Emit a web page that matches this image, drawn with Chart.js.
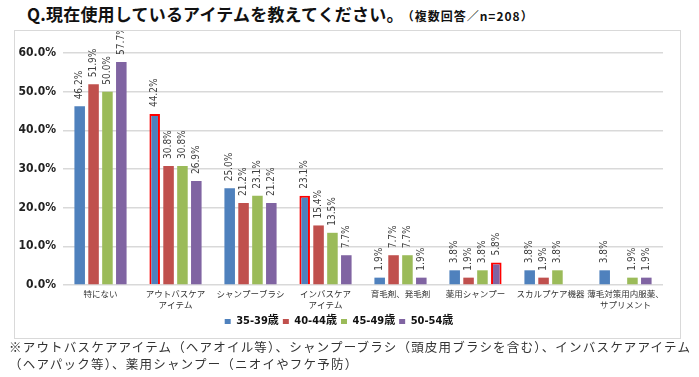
<!DOCTYPE html>
<html><head><meta charset="utf-8">
<script src="https://cdn.jsdelivr.net/npm/chart.js@4.4.1/dist/chart.umd.min.js"></script>
<style>
html,body{margin:0;padding:0;background:#fff;width:699px;height:377px;overflow:hidden;font-family:"Noto Sans CJK JP",sans-serif;}
#title{position:absolute;left:27px;top:1px;font-size:17px;font-weight:bold;color:#111;white-space:nowrap;letter-spacing:0.2px;}
#title span{font-size:12px;letter-spacing:1px;margin-left:4px;}
#box{position:absolute;left:14px;top:30px;width:665px;height:307px;border:1px solid #d9d9d9;}
#note{position:absolute;left:9px;top:338px;font-size:12.5px;line-height:17px;color:#333;letter-spacing:1.2px;white-space:nowrap;}
</style></head><body>
<div id="title">Q.現在使用しているアイテムを教えてください。<span>（複数回答／n=208）</span></div>
<div id="box"><canvas id="c" width="665" height="307"></canvas></div>
<div id="note">※アウトバスケアアイテム（ヘアオイル等）、シャンプーブラシ（頭皮用ブラシを含む）、インバスケアアイテム<br>（ヘアパック等）、薬用シャンプー（ニオイやフケ予防）</div>
<script>
const categories = ['特にない', ['アウトバスケア','アイテム'], 'シャンプーブラシ', ['インバスケア','アイテム'], '育毛剤、発毛剤', '薬用シャンプー', 'スカルプケア機器', ['薄毛対策用内服薬、','サプリメント']];
const seriesNames = ['35-39歳','40-44歳','45-49歳','50-54歳'];
const age35 = [46.2, 44.2, 25.0, 23.1, 1.9, 3.8, 3.8, 3.8];
const age40 = [51.9, 30.8, 21.2, 15.4, 7.7, 1.9, 1.9, null];
const age45 = [50.0, 30.8, 23.1, 13.5, 7.7, 3.8, 3.8, 1.9];
const age50 = [57.7, 26.9, 21.2, 7.7, 1.9, 5.8, null, 1.9];
const yTicks = [0, 10, 20, 30, 40, 50, 60];
// highlighted bars: [seriesIndex, categoryIndex]
const highlighted = [[0,1],[0,3],[3,5]];

const colors = ['#4F81BD','#C0504D','#9BBB59','#8064A2'];
const allSeries = [age35, age40, age45, age50];

const datasets = allSeries.map((d, si) => ({
  label: seriesNames[si],
  data: d,
  backgroundColor: colors[si],
  borderColor: d.map((v, ci) => highlighted.some(h => h[0]===si && h[1]===ci) ? '#FF0000' : colors[si]),
  borderWidth: d.map((v, ci) => highlighted.some(h => h[0]===si && h[1]===ci) ? 2 : 0),
  barPercentage: 0.76,
  categoryPercentage: 0.74
}));

const valueLabels = {
  id: 'valueLabels',
  afterDatasetsDraw(chart) {
    const ctx = chart.ctx;
    ctx.save();
    ctx.font = '10px "DejaVu Sans Condensed", sans-serif';
    ctx.fillStyle = '#404040';
    ctx.textAlign = 'left';
    ctx.textBaseline = 'middle';
    chart.data.datasets.forEach((ds, di) => {
      const meta = chart.getDatasetMeta(di);
      meta.data.forEach((el, i) => {
        const v = ds.data[i];
        if (v === null || v === undefined) return;
        ctx.save();
        ctx.translate(el.x, el.y - 7);
        ctx.rotate(-Math.PI / 2);
        ctx.fillText(v.toFixed(1) + '%', 0, 0);
        ctx.restore();
      });
    });
    ctx.restore();
  }
};

new Chart(document.getElementById('c'), {
  type: 'bar',
  data: { labels: categories, datasets },
  options: {
    responsive: false,
    animation: false,
    layout: { padding: { top: 22, right: 17, left: 0, bottom: 1 } },
    plugins: {
      legend: {
        position: 'bottom',
        labels: {
          boxWidth: 6, boxHeight: 5, padding: 4, color: '#111',
          font: { size: 11, weight: 'bold', family: '"DejaVu Sans Condensed", "Noto Sans CJK JP", sans-serif' },
          generateLabels(chart) {
            return chart.data.datasets.map((ds, i) => ({
              text: ds.label, fillStyle: colors[i], strokeStyle: colors[i], lineWidth: 0, datasetIndex: i, fontColor: '#111'
            }));
          }
        }
      },
      tooltip: { enabled: false }
    },
    scales: {
      x: {
        grid: { display: false, drawTicks: false },
        border: { display: false },
        ticks: { color: '#333', font: { size: 8.5, lineHeight: 1.35, family: '"Noto Sans CJK JP", sans-serif' }, padding: 3, maxRotation: 0, autoSkip: false },
        afterFit(scale) { scale.height = 27; }
      },
      y: {
        min: 0, max: 60,
        afterBuildTicks(scale) { scale.ticks = yTicks.map(v => ({ value: v })); },
        grid: { color: '#d9d9d9', lineWidth: 1.5, drawTicks: false },
        border: { display: false },
        ticks: {
          color: '#222', padding: 7,
          font: { size: 12, weight: 'bold', family: '"DejaVu Sans Condensed", sans-serif' },
          callback: v => v.toFixed(1) + '%'
        },
        afterFit(scale) { scale.width = 48; }
      }
    }
  },
  plugins: [valueLabels]
});
</script>
</body></html>
